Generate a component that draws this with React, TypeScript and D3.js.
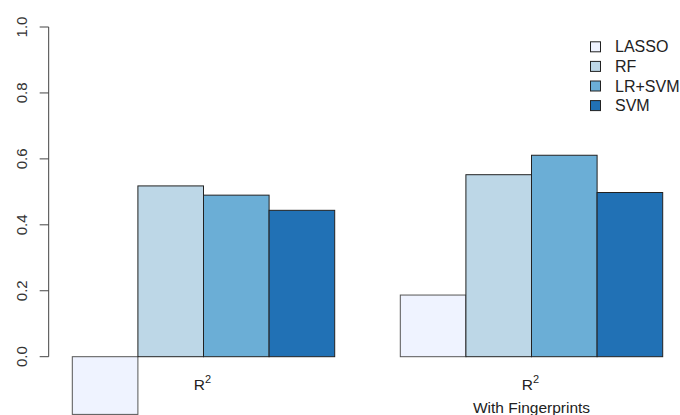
import React, { useEffect, useRef } from "react";
import * as d3 from "d3";

// chart data
const methods = ["LASSO", "RF", "LR+SVM", "SVM"];
const plainR2 = [-0.175, 0.518, 0.49, 0.444];
const fingerprintR2 = [0.187, 0.552, 0.611, 0.498];
const groupSubtitles = ["", "With Fingerprints"];
const colors = ["#EFF3FF", "#BDD7E7", "#6BAED6", "#2171B5"];
const yTicks = [0, 0.2, 0.4, 0.6, 0.8, 1.0];

const W = 680;
const H = 415;
const FONT = "'Liberation Sans', Arial, sans-serif";

export default function App() {
  const svgRef = useRef<SVGSVGElement>(null);

  useEffect(() => {
    const svg = d3.select(svgRef.current);
    svg.selectAll("*").remove();

    // barplot units: group g starts at 1 + 5g, bars are 1 unit wide
    const x = d3.scaleLinear().domain([1, 10]).range([72.3, 662.7]);
    const y = d3.scaleLinear().domain([0, 1]).range([356.7, 27]);

    const series = [plainR2, fingerprintR2];
    const bars = series.flatMap((vals, g) =>
      vals.map((v, i) => ({ g, i, v, left: 1 + g * 5 + i }))
    );

    svg
      .append("g")
      .selectAll("rect")
      .data(bars)
      .enter()
      .append("rect")
      .attr("x", (d) => x(d.left))
      .attr("width", (d) => x(d.left + 1) - x(d.left))
      .attr("y", (d) => y(Math.max(0, d.v)))
      .attr("height", (d) => Math.abs(y(d.v) - y(0)))
      .attr("fill", (d) => colors[d.i])
      .attr("stroke", (d) => (d.i === 0 ? "#555" : "#222"))
      .attr("stroke-width", 1);

    // y axis
    const axX = x(0.64);
    const ax = svg.append("g").attr("fill", "#333");
    ax.append("line")
      .attr("x1", axX).attr("x2", axX)
      .attr("y1", y(0)).attr("y2", y(1))
      .attr("stroke", "#444");
    yTicks.forEach((t) => {
      ax.append("line")
        .attr("x1", axX - 9).attr("x2", axX)
        .attr("y1", y(t)).attr("y2", y(t))
        .attr("stroke", "#444");
      ax.append("text")
        .attr("transform", `translate(27,${y(t)}) rotate(-90)`)
        .attr("text-anchor", "middle")
        .attr("font-family", FONT)
        .attr("font-size", 15)
        .text(t.toFixed(1));
    });

    // group labels
    groupSubtitles.forEach((sub, g) => {
      const cx = x(1 + g * 5 + 2);
      const t = svg.append("text")
        .attr("x", cx - 1)
        .attr("y", 390)
        .attr("text-anchor", "middle")
        .attr("font-family", FONT)
        .attr("font-size", 15.5)
        .attr("fill", "#222");
      t.append("tspan").text("R");
      t.append("tspan")
        .attr("dy", -7)
        .attr("font-size", 11)
        .text("2");
      if (sub) {
        svg.append("text")
          .attr("x", cx)
          .attr("y", 413)
          .attr("text-anchor", "middle")
          .attr("font-family", FONT)
          .attr("font-size", 15.5)
          .attr("fill", "#222")
          .text(sub);
      }
    });

    // legend
    const leg = svg.append("g");
    methods.forEach((m, i) => {
      const cy = 46.8 + i * 19.6;
      leg.append("rect")
        .attr("x", 590.5).attr("y", cy - 5)
        .attr("width", 10).attr("height", 10)
        .attr("fill", colors[i])
        .attr("stroke", "#222");
      leg.append("text")
        .attr("x", 615)
        .attr("y", cy + 5.5)
        .attr("font-family", FONT)
        .attr("font-size", 16)
        .attr("fill", "#222")
        .text(m);
    });
  }, []);

  return (
    <svg
      ref={svgRef}
      width={W}
      height={H}
      style={{ position: "absolute", left: 0, top: 0, background: "#fff" }}
    />
  );
}
